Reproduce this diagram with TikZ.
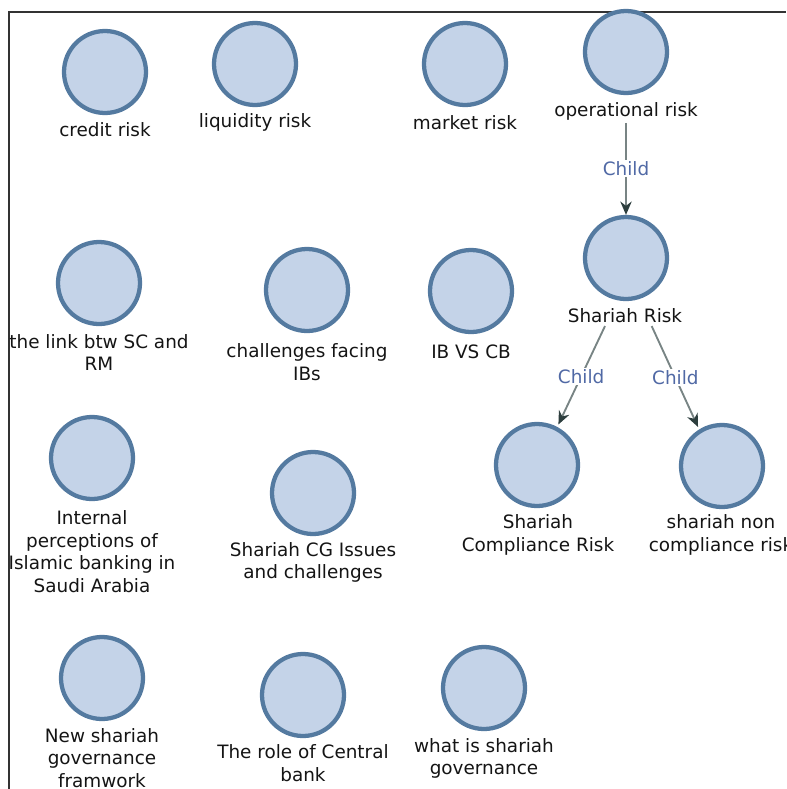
\documentclass[tikz,border=0pt]{standalone}
\usepackage{fontspec}
\setmainfont{DejaVu Sans}
\usepackage{tikz}
\usetikzlibrary{arrows.meta}
\definecolor{nodefill}{RGB}{196,211,232}
\definecolor{nodeline}{RGB}{84,122,160}
\definecolor{edgegray}{RGB}{120,132,132}
\definecolor{tipdark}{RGB}{45,62,62}
\definecolor{childblue}{RGB}{80,105,165}
\tikzset{
  cnode/.style = {circle, draw=nodeline, fill=nodefill, line width=3.2pt, minimum size=61.5pt, inner sep=0pt},
  clabel/.style = {align=center, inner sep=2pt, text=black!92, font=\fontsize{13.8}{17}\selectfont},
  cedge/.style = {draw=edgegray, line width=1.4pt, -{Stealth[length=10pt,width=8.5pt,color=tipdark]}},
  elabel/.style = {fill=white, text=childblue, inner sep=1pt, font=\fontsize{13.8}{17}\selectfont}
}

\begin{document}
\begin{tikzpicture}[x=0.75pt, y=-0.75pt]
\useasboundingbox (0,0) rectangle (786,789);
\draw [line width=1.5pt, black!80] (8.5,789) -- (8.5,12) -- (786,12);

% top row
\node [cnode] (CR) at (105,72) {};
\node [clabel] (CRl) at (105,130) {credit risk};
\node [cnode] (LR) at (255,64) {};
\node [clabel] (LRl) at (255,122) {liquidity risk};
\node [cnode] (MR) at (465,64) {};
\node [clabel] (MRl) at (465,123) {market risk};
\node [cnode] (OR) at (626,52) {};
\node [clabel] (ORl) at (626,111) {operational risk};

% shariah risk and its children
\node [cnode] (SR) at (626,258) {};
\node [clabel] (SRl) at (625,316) {Shariah Risk};
\node [cnode] (SCR) at (537,465) {};
\node [clabel] (SCRl) at (538,535) {Shariah\\Compliance Risk};
\node [cnode] (SNR) at (722,466) {};
\node [clabel] (SNRl) at (721,535) {shariah non\\compliance risk};

% second row
\node [cnode] (LK) at (99,283) {};
\node [clabel] (LKl) at (99,352.5) {the link btw SC and\\RM};
\node [cnode] (CH) at (307,290) {};
\node [clabel] (CHl) at (307,362) {challenges facing\\IBs};
\node [cnode] (IB) at (471,291) {};
\node [clabel] (IBl) at (471,352) {IB VS CB};

% third row
\node [cnode] (IP) at (92,458) {};
\node [clabel] (IPl) at (92,551.5) {Internal\\perceptions of\\Islamic banking in\\Saudi Arabia};
\node [cnode] (CG) at (313,493) {};
\node [clabel] (CGl) at (313,562.5) {Shariah CG Issues\\and challenges};

% bottom row
\node [cnode] (NS) at (102,678) {};
\node [clabel] (NSl) at (102,758) {New shariah\\governance\\framwork};
\node [cnode] (CB) at (303,695) {};
\node [clabel] (CBl) at (303,763) {The role of Central\\bank};
\node [cnode] (WS) at (484,688) {};
\node [clabel] (WSl) at (484,758.5) {what is shariah\\governance};

% child links
\draw [cedge] (ORl.south) -- node [elabel] {Child} (SR.north);
\draw [cedge, shorten >=2pt] ([xshift=-15pt]SRl.south) -- node [elabel] {Child} (SCR.62);
\draw [cedge, shorten >=2pt] ([xshift=20pt]SRl.south) -- node [elabel] {Child} (SNR.122);
\end{tikzpicture}
\end{document}
